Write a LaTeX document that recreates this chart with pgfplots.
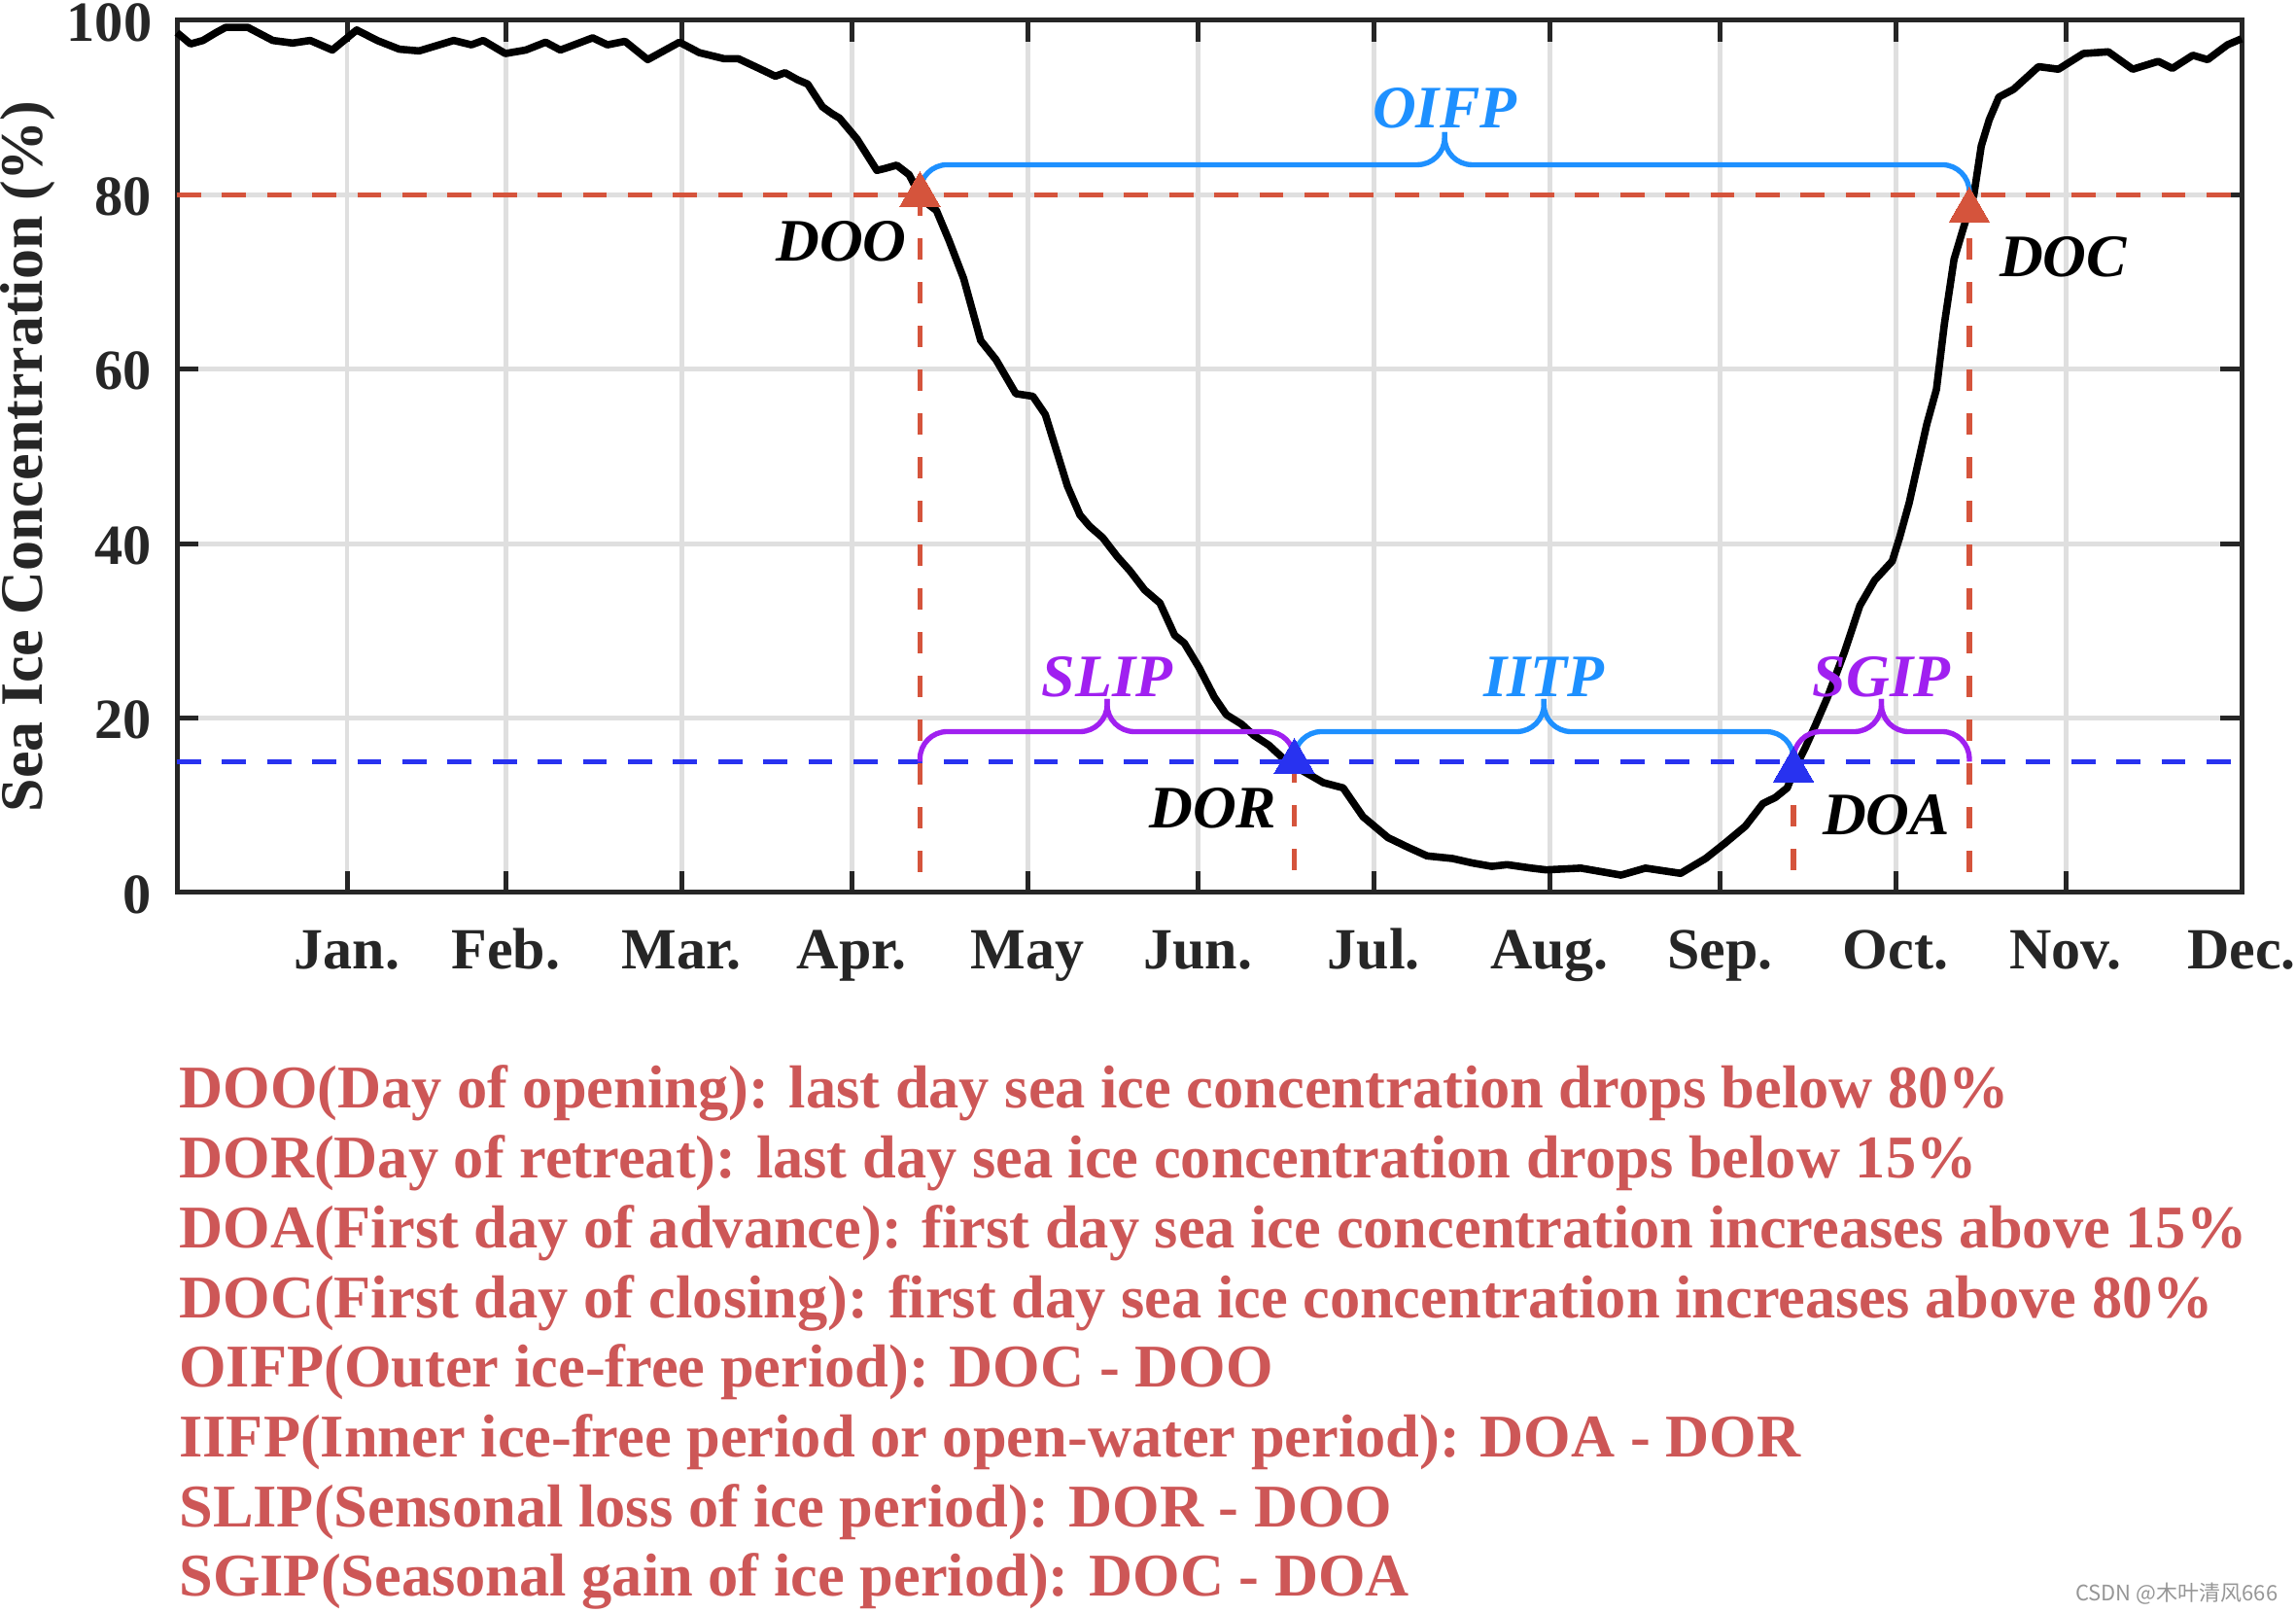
\documentclass[border=0pt]{standalone}
\usepackage{fontspec}
\setmainfont{Liberation Serif}
\newfontfamily\cjk{Noto Sans CJK SC}
\usepackage{pgfplots}
\pgfplotsset{compat=1.18}
\definecolor{axgray}{RGB}{38,38,38}
\definecolor{gridgray}{RGB}{223,223,223}
\definecolor{dred}{RGB}{213,84,60}
\definecolor{dblue}{RGB}{40,50,240}
\definecolor{lblue}{RGB}{30,144,255}
\definecolor{vpurple}{RGB}{160,32,240}
\definecolor{txtred}{RGB}{205,87,87}
\definecolor{wmgray}{RGB}{150,150,150}
\newcommand\bigfont{\fontsize{15.5pt}{18pt}\selectfont}
\newcommand\tickfont{\fontsize{15pt}{18pt}\selectfont}
\begin{document}
\begin{tikzpicture}
\begin{axis}[
  at={(45.5pt,185pt)}, anchor=south west,
  scale only axis, width=531pt, height=224.25pt,
  xmin=1, xmax=365, ymin=0, ymax=100,
  xtick={31,59,90,120,151,181,212,243,273,304,334,365},
  xticklabels={Jan.,Feb.,Mar.,Apr.,May,Jun.,Jul.,Aug.,Sep.,Oct.,Nov.,Dec.},
  ytick={0,20,40,60,80,100},
  tick align=inside,
  major tick length=5.5pt,
  axis line style={axgray, line width=1.25pt},
  tick style={axgray, line width=1.25pt},
  grid=major,
  major grid style={gridgray, line width=1.2pt},
  tick label style={font=\tickfont\bfseries, text=axgray},
  /pgf/number format/assume math mode=true,
  xticklabel style={anchor=base, yshift=-19.7pt, inner sep=0pt},
  yticklabel style={font=\fontsize{14.6pt}{18pt}\selectfont\bfseries, anchor=east, inner sep=0pt, xshift=-6.25pt, yshift=-0.5pt},
  ylabel={Sea Ice Concentrration (\%)},
  ylabel style={at={(axis description cs:-0.0654,0.5)}, anchor=base, inner sep=0pt},
  label style={font=\bigfont\bfseries, text=axgray},
  clip=false,
]
% sea ice concentration curve
\addplot[black, line width=1.9pt, line join=round] coordinates {
(1,98.6) (3.4,97.3) (5.6,97.7) (7.9,98.6) (9.6,99.2) (13.5,99.2) (17.9,97.7)
(21.4,97.4) (24.5,97.7) (28.4,96.6) (32.7,98.9) (36.3,97.7) (40.2,96.7)
(43.7,96.5) (49.8,97.7) (52.9,97.2) (55.0,97.7) (58.9,96.2) (62.5,96.6)
(66,97.5) (68.6,96.6) (74.3,98.0) (76.9,97.2) (80,97.6) (84,95.5) (89.6,97.5)
(93.1,96.3) (97.5,95.6) (100,95.6) (103.6,94.5) (106.5,93.6) (108.2,94.0)
(110.4,93.2) (112.2,92.7) (114.8,90.1) (116.5,89.3) (117.8,88.8) (120.9,86.4)
(124.4,82.8) (125.7,83.0) (127.9,83.4) (130.1,82.3) (132.3,79.5) (134.9,78.2)
(137.1,74.8) (139.7,70.4) (142.7,63.3) (145.4,61.1) (148.9,57.2) (151.9,56.9)
(154.1,54.8) (158.0,46.6) (160.2,43.3) (161.9,42.0) (164.2,40.7) (166.8,38.5)
(169,36.9) (171.6,34.7) (174.3,33.2) (176.9,29.5) (178.6,28.6) (181.2,25.8)
(183.9,22.4) (186.0,20.4) (188.7,19.3) (190.9,18.0) (193.5,16.9) (196,15.4)
(199.6,13.9) (203.1,12.6) (206.6,12.0) (210.1,8.7) (214.5,6.3) (218,5.2)
(221.4,4.2) (225.9,3.9) (229.3,3.4) (232.8,3.0) (235.5,3.2) (239.8,2.8)
(242.4,2.6) (248.5,2.8) (255.6,2.0) (259.9,2.8) (266.1,2.2) (270.5,3.9)
(274,5.7) (277.5,7.6) (280.6,10.2) (282.8,10.9) (284.9,12.0) (286.3,14.3)
(288,16.5) (289.8,19.1) (292,22.4) (295,27.6) (297.7,32.9) (300.3,35.8)
(303.4,38.0) (304.7,40.7) (306.4,44.7) (309.5,53.7) (311.2,57.7) (312.6,65.2)
(314.3,72.6) (316,76.3) (317.8,80.0) (319.1,85.6) (320.5,88.6) (322.2,91.2)
(324.8,92.1) (329.2,94.7) (332.7,94.4) (337.1,96.2) (341.5,96.4) (345.8,94.4)
(350.3,95.3) (352.8,94.5) (356.4,96.0) (359,95.5) (362.5,97.2) (365,97.9)
};
% thresholds
\addplot[dred, line width=1.4pt, dash pattern=on 6.2pt off 5.4pt] coordinates {(1,80) (365,80)};
\addplot[dblue, line width=1.4pt, dash pattern=on 6.2pt off 5.4pt] coordinates {(1,15) (365,15)};
% event verticals
\addplot[dred, line width=1.4pt, dash pattern=on 5.5pt off 5.75pt] coordinates {(132,80) (132,0)};
\addplot[dred, line width=1.4pt, dash pattern=on 5.5pt off 5.75pt] coordinates {(198,15) (198,0)};
\addplot[dred, line width=1.4pt, dash pattern=on 5.5pt off 5.75pt] coordinates {(286,15) (286,0)};
\addplot[dred, line width=1.4pt, dash pattern=on 5.5pt off 5.75pt] coordinates {(317,80) (317,0)};
% event markers
\addplot[only marks, mark=triangle*, mark size=6pt, color=dred, mark options={solid, line width=0pt}] coordinates {(132,80) (317,78.2)};
\addplot[only marks, mark=triangle*, mark size=6pt, color=dblue, mark options={solid, line width=0pt}] coordinates {(198,15) (286,14)};
% braces
\draw[lblue, line width=1.33pt, rounded corners=7pt] (axis cs:132,80) -- (axis cs:132,83.45) -- (axis cs:224.5,83.45) -- (axis cs:224.5,87.2);
\draw[lblue, line width=1.33pt, rounded corners=7pt] (axis cs:317,80) -- (axis cs:317,83.45) -- (axis cs:224.5,83.45) -- (axis cs:224.5,87.2);
\draw[vpurple, line width=1.33pt, rounded corners=7pt] (axis cs:132,15) -- (axis cs:132,18.45) -- (axis cs:165,18.45) -- (axis cs:165,22.2);
\draw[vpurple, line width=1.33pt, rounded corners=7pt] (axis cs:198,15) -- (axis cs:198,18.45) -- (axis cs:165,18.45) -- (axis cs:165,22.2);
\draw[lblue, line width=1.33pt, rounded corners=7pt] (axis cs:198,15) -- (axis cs:198,18.45) -- (axis cs:242,18.45) -- (axis cs:242,22.2);
\draw[lblue, line width=1.33pt, rounded corners=7pt] (axis cs:286,15) -- (axis cs:286,18.45) -- (axis cs:242,18.45) -- (axis cs:242,22.2);
\draw[vpurple, line width=1.33pt, rounded corners=7pt] (axis cs:286,15) -- (axis cs:286,18.45) -- (axis cs:301.5,18.45) -- (axis cs:301.5,22.2);
\draw[vpurple, line width=1.33pt, rounded corners=7pt] (axis cs:317,15) -- (axis cs:317,18.45) -- (axis cs:301.5,18.45) -- (axis cs:301.5,22.2);
% brace labels
\node[anchor=base, inner sep=0pt, text=lblue, font=\bigfont\bfseries\itshape] at (axis cs:224.5,87.7) {OIFP};
\node[anchor=base, inner sep=0pt, text=vpurple, font=\bigfont\bfseries\itshape] at (axis cs:165,22.45) {SLIP};
\node[anchor=base, inner sep=0pt, text=lblue, font=\bigfont\bfseries\itshape] at (axis cs:242,22.45) {IITP};
\node[anchor=base, inner sep=0pt, text=vpurple, font=\bigfont\bfseries\itshape] at (axis cs:301.5,22.45) {SGIP};
% event labels
\node[anchor=base east, inner sep=0pt, font=\bigfont\bfseries\itshape] at (axis cs:129.8,72.4) {DOO};
\node[anchor=base west, inner sep=0pt, font=\bigfont\bfseries\itshape] at (axis cs:322.2,70.6) {DOC};
\node[anchor=base east, inner sep=0pt, font=\bigfont\bfseries\itshape] at (axis cs:195,7.4) {DOR};
\node[anchor=base west, inner sep=0pt, font=\bigfont\bfseries\itshape] at (axis cs:291,6.6) {DOA};
\end{axis}
% definitions
\begin{scope}[every node/.style={anchor=base west, inner sep=0pt, text=txtred, font=\fontsize{15.6pt}{18pt}\selectfont\bfseries}]
\node at (45.9pt,129.5pt) {DOO(Day of opening): last day sea ice concentration drops below 80\%};
\node at (45.9pt,111.575pt) {DOR(Day of retreat): last day sea ice concentration drops below 15\%};
\node at (45.9pt,93.65pt) {DOA(First day of advance): first day sea ice concentration increases above 15\%};
\node at (45.9pt,75.725pt) {DOC(First day of closing): first day sea ice concentration increases above 80\%};
\node at (45.9pt,57.8pt) {OIFP(Outer ice-free period): DOC - DOO};
\node at (45.9pt,39.875pt) {IIFP(Inner ice-free period or open-water period): DOA - DOR};
\node at (45.9pt,21.95pt) {SLIP(Sensonal loss of ice period): DOR - DOO};
\node at (45.9pt,4.025pt) {SGIP(Seasonal gain of ice period): DOC - DOA};
\end{scope}
\node[anchor=base east, inner sep=0pt, text=wmgray, font=\cjk\fontsize{5.5pt}{6.5pt}\selectfont] at (586pt,3pt) {CSDN @木叶清风666};
\pgfresetboundingbox
\path[use as bounding box] (0,0) rectangle (590.5pt,414.5pt);
\end{tikzpicture}
\end{document}
